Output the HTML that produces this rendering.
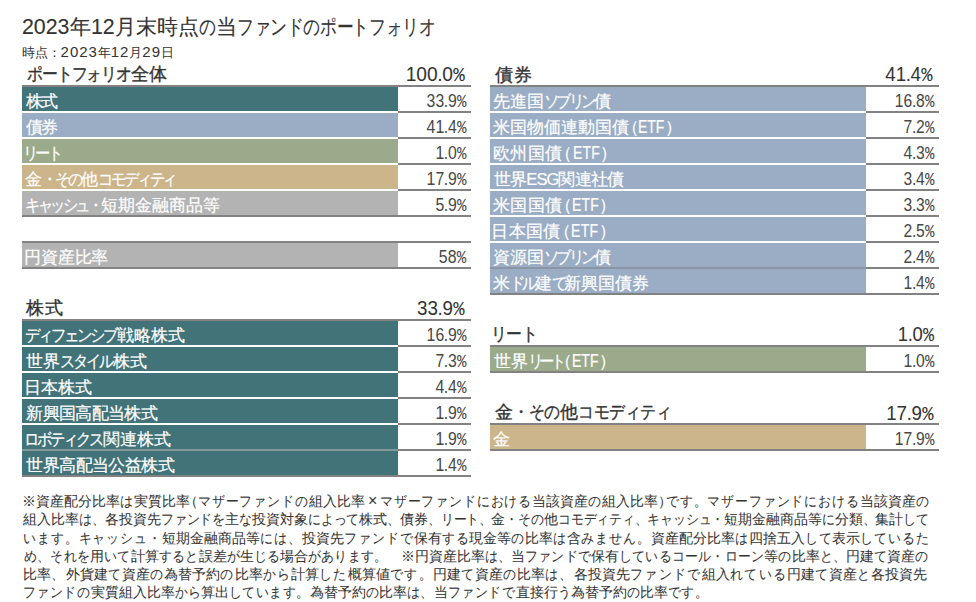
<!DOCTYPE html>
<html lang="ja"><head><meta charset="utf-8"><style>
*{margin:0;padding:0;box-sizing:border-box}
html,body{width:976px;height:602px;overflow:hidden;background:#fff}
body{position:relative;font-family:"Liberation Sans",sans-serif;color:#333333}
.r{position:absolute}
div[id]{position:absolute;white-space:nowrap}
.t{font-size:21px;line-height:24px;-webkit-text-stroke:0.1px #333333}
.st{font-size:13px;line-height:16px}
.lb{font-size:16.5px;line-height:17px;color:#ffffff;-webkit-text-stroke:0.2px #ffffff}
.vl{font-size:18px;line-height:20px;height:20px;color:#484848;transform-origin:100% 50%}
.hd{font-size:17.5px;line-height:20px;-webkit-text-stroke:0.35px #333333}
.hv{font-size:20.4px;line-height:20px;height:20px;transform-origin:100% 50%}
.b{font-weight:bold}
.po{margin-left:-0.42em}
.ks{display:inline-block;transform-origin:0 50%}
.lat{display:inline-block;font-size:17.5px;transform:scaleX(0.8);transform-origin:0 50%}
.tdg{display:inline-block;font-size:22px;transform:scaleX(0.97);transform-origin:0 50%}
.sdg{font-size:15px}
.xm{font-size:16px;margin:0 3px;line-height:0;-webkit-text-stroke:0}
.pd{margin:0 -0.02em}
.pm{font-family:"Liberation Mono",monospace;margin-left:0.02em;line-height:1}
.pc{margin-right:-0.42em}
.ft{font-size:14px;line-height:18px;-webkit-text-stroke:0.05px #333333}
</style></head><body>
<div id="HAl" class="hd" style="top:63.80px;left:27.00px;"><span class="ks" style="letter-spacing:-1.117px;transform:scaleX(0.88);margin-right:-13.76px">ポートフォリオ</span>全体</div>
<div id="HAv" class="hv" style="top:63.50px;right:511.00px;transform:scaleX(0.9416);">100<span class="pd">.</span>0<span class="pm">%</span></div>
<div class="r" style="left:22px;top:85px;width:449px;height:2px;background:#828282"></div>
<div class="r" style="left:22px;top:87px;width:376px;height:24px;background:#427378"></div>
<div class="r" style="left:398px;top:111px;width:73px;height:2px;background:#828282"></div>
<div id="A0l" class="lb" style="top:92.70px;left:26.20px;letter-spacing:-1.920px;">株式</div>
<div id="A0v" class="vl" style="top:90.90px;right:509.60px;transform:scaleX(0.8766);">33<span class="pd">.</span>9<span class="pm">%</span></div>
<div class="r" style="left:22px;top:113px;width:376px;height:24px;background:#9aadc4"></div>
<div class="r" style="left:398px;top:137px;width:73px;height:2px;background:#828282"></div>
<div id="A1l" class="lb" style="top:118.70px;left:26.20px;letter-spacing:-1.920px;">債券</div>
<div id="A1v" class="vl" style="top:116.90px;right:509.60px;transform:scaleX(0.8766);">41<span class="pd">.</span>4<span class="pm">%</span></div>
<div class="r" style="left:22px;top:139px;width:376px;height:24px;background:#9aaa8a"></div>
<div class="r" style="left:398px;top:163px;width:73px;height:2px;background:#828282"></div>
<div id="A2l" class="lb" style="top:144.70px;left:22.60px;"><span class="ks" style="letter-spacing:-3.378px;transform:scaleX(0.9);margin-right:-3.94px">リート</span></div>
<div id="A2v" class="vl" style="top:142.90px;right:509.60px;transform:scaleX(0.8766);">1<span class="pd">.</span>0<span class="pm">%</span></div>
<div class="r" style="left:22px;top:165px;width:376px;height:24px;background:#cdb58b"></div>
<div class="r" style="left:398px;top:189px;width:73px;height:2px;background:#828282"></div>
<div id="A3l" class="lb" style="top:170.70px;left:25.20px;">金<span class="ks" style="letter-spacing:-2.667px;transform:scaleX(0.9);margin-right:-4.15px">・その</span>他<span class="ks" style="letter-spacing:-2.667px;transform:scaleX(0.9);margin-right:-8.30px">コモディティ</span></div>
<div id="A3v" class="vl" style="top:168.90px;right:509.60px;transform:scaleX(0.8766);">17<span class="pd">.</span>9<span class="pm">%</span></div>
<div class="r" style="left:22px;top:191px;width:376px;height:24px;background:#b3b3b3"></div>
<div id="A4l" class="lb" style="top:196.70px;left:25.20px;"><span class="ks" style="letter-spacing:-3.022px;transform:scaleX(0.9);margin-right:-8.09px">キャッシュ・</span>短期金融商品等</div>
<div id="A4v" class="vl" style="top:194.90px;right:509.60px;transform:scaleX(0.8766);">5<span class="pd">.</span>9<span class="pm">%</span></div>
<div class="r" style="left:22px;top:215px;width:449px;height:2px;background:#828282"></div>
<div class="r" style="left:22px;top:241px;width:449px;height:2px;background:#828282"></div>
<div class="r" style="left:22px;top:243px;width:376px;height:24px;background:#b3b3b3"></div>
<div id="Y0l" class="lb" style="top:248.70px;left:24.00px;letter-spacing:-0.160px;">円資産比率</div>
<div id="Y0v" class="vl" style="top:246.90px;right:509.60px;transform:scaleX(0.8766);">58<span class="pm">%</span></div>
<div class="r" style="left:22px;top:267px;width:449px;height:2px;background:#828282"></div>
<div id="HSl" class="hd" style="top:298.40px;left:26.40px;letter-spacing:0.160px;">株式</div>
<div id="HSv" class="hv" style="top:297.50px;right:511.20px;transform:scaleX(0.9222);">33<span class="pd">.</span>9<span class="pm">%</span></div>
<div class="r" style="left:22px;top:319px;width:449px;height:2px;background:#828282"></div>
<div class="r" style="left:22px;top:321px;width:376px;height:24px;background:#427378"></div>
<div class="r" style="left:398px;top:345px;width:73px;height:2px;background:#828282"></div>
<div id="S0l" class="lb" style="top:326.70px;left:25.20px;"><span class="ks" style="letter-spacing:-2.514px;transform:scaleX(0.9);margin-right:-9.79px">ディフェンシブ</span>戦略株式</div>
<div id="S0v" class="vl" style="top:324.90px;right:509.60px;transform:scaleX(0.8766);">16<span class="pd">.</span>9<span class="pm">%</span></div>
<div class="r" style="left:22px;top:347px;width:376px;height:24px;background:#427378"></div>
<div class="r" style="left:398px;top:371px;width:73px;height:2px;background:#828282"></div>
<div id="S1l" class="lb" style="top:352.70px;left:26.40px;">世界<span class="ks" style="letter-spacing:-2.444px;transform:scaleX(0.9);margin-right:-5.62px">スタイル</span>株式</div>
<div id="S1v" class="vl" style="top:350.90px;right:509.60px;transform:scaleX(0.8766);">7<span class="pd">.</span>3<span class="pm">%</span></div>
<div class="r" style="left:22px;top:373px;width:376px;height:24px;background:#427378"></div>
<div class="r" style="left:398px;top:397px;width:73px;height:2px;background:#828282"></div>
<div id="S2l" class="lb" style="top:378.70px;left:24.00px;letter-spacing:-0.053px;">日本株式</div>
<div id="S2v" class="vl" style="top:376.90px;right:509.60px;transform:scaleX(0.8766);">4<span class="pd">.</span>4<span class="pm">%</span></div>
<div class="r" style="left:22px;top:399px;width:376px;height:24px;background:#427378"></div>
<div class="r" style="left:398px;top:423px;width:73px;height:2px;background:#828282"></div>
<div id="S3l" class="lb" style="top:404.70px;left:26.40px;letter-spacing:-0.663px;">新興国高配当株式</div>
<div id="S3v" class="vl" style="top:402.90px;right:509.60px;transform:scaleX(0.8766);">1<span class="pd">.</span>9<span class="pm">%</span></div>
<div class="r" style="left:22px;top:425px;width:376px;height:24px;background:#427378"></div>
<div class="r" style="left:398px;top:449px;width:73px;height:2px;background:#828282"></div>
<div class="r" style="left:22px;top:449px;width:376px;height:2px;background:#819b9c"></div>
<div id="S4l" class="lb" style="top:430.70px;left:24.20px;"><span class="ks" style="letter-spacing:-2.548px;transform:scaleX(0.9);margin-right:-8.37px">ロボティクス</span>関連株式</div>
<div id="S4v" class="vl" style="top:428.90px;right:509.60px;transform:scaleX(0.8766);">1<span class="pd">.</span>9<span class="pm">%</span></div>
<div class="r" style="left:22px;top:451px;width:376px;height:24px;background:#427378"></div>
<div id="S5l" class="lb" style="top:456.70px;left:26.40px;letter-spacing:-0.580px;">世界高配当公益株式</div>
<div id="S5v" class="vl" style="top:454.90px;right:509.60px;transform:scaleX(0.8766);">1<span class="pd">.</span>4<span class="pm">%</span></div>
<div class="r" style="left:22px;top:475px;width:449px;height:2px;background:#828282"></div>
<div id="HBl" class="hd" style="top:64.60px;left:495.00px;letter-spacing:0.800px;">債券</div>
<div id="HBv" class="hv" style="top:63.90px;right:43.00px;transform:scaleX(0.9179);">41<span class="pd">.</span>4<span class="pm">%</span></div>
<div class="r" style="left:490px;top:85px;width:449px;height:2px;background:#828282"></div>
<div class="r" style="left:490px;top:87px;width:376px;height:24px;background:#9aadc4"></div>
<div class="r" style="left:866px;top:111px;width:73px;height:2px;background:#828282"></div>
<div id="B0l" class="lb" style="top:92.70px;left:493.20px;">先進国<span class="ks" style="letter-spacing:-3.333px;transform:scaleX(0.9);margin-right:-5.27px">ソブリン</span>債</div>
<div id="B0v" class="vl" style="top:90.90px;right:41.60px;transform:scaleX(0.8711);">16<span class="pd">.</span>8<span class="pm">%</span></div>
<div class="r" style="left:490px;top:113px;width:376px;height:24px;background:#9aadc4"></div>
<div class="r" style="left:866px;top:137px;width:73px;height:2px;background:#828282"></div>
<div id="B1l" class="lb" style="top:118.70px;left:493.20px;letter-spacing:-0.093px;">米国物価連動国債<span class="po">（</span><span class="lat" style="margin-right:-6.61px">ETF</span><span class="pc">）</span></div>
<div id="B1v" class="vl" style="top:116.90px;right:41.60px;transform:scaleX(0.8711);">7<span class="pd">.</span>2<span class="pm">%</span></div>
<div class="r" style="left:490px;top:139px;width:376px;height:24px;background:#9aadc4"></div>
<div class="r" style="left:866px;top:163px;width:73px;height:2px;background:#828282"></div>
<div id="B2l" class="lb" style="top:144.70px;left:493.20px;letter-spacing:0.280px;">欧州国債<span class="po">（</span><span class="lat" style="margin-right:-6.61px">ETF</span><span class="pc">）</span></div>
<div id="B2v" class="vl" style="top:142.90px;right:41.60px;transform:scaleX(0.8711);">4<span class="pd">.</span>3<span class="pm">%</span></div>
<div class="r" style="left:490px;top:165px;width:376px;height:24px;background:#9aadc4"></div>
<div class="r" style="left:866px;top:189px;width:73px;height:2px;background:#828282"></div>
<div id="B3l" class="lb" style="top:170.70px;left:494.20px;letter-spacing:-0.920px;">世界ESG関連社債</div>
<div id="B3v" class="vl" style="top:168.90px;right:41.60px;transform:scaleX(0.8711);">3<span class="pd">.</span>4<span class="pm">%</span></div>
<div class="r" style="left:490px;top:191px;width:376px;height:24px;background:#9aadc4"></div>
<div class="r" style="left:866px;top:215px;width:73px;height:2px;background:#828282"></div>
<div id="B4l" class="lb" style="top:196.70px;left:493.20px;letter-spacing:0.160px;">米国国債<span class="po">（</span><span class="lat" style="margin-right:-6.61px">ETF</span><span class="pc">）</span></div>
<div id="B4v" class="vl" style="top:194.90px;right:41.60px;transform:scaleX(0.8711);">3<span class="pd">.</span>3<span class="pm">%</span></div>
<div class="r" style="left:490px;top:217px;width:376px;height:24px;background:#9aadc4"></div>
<div class="r" style="left:866px;top:241px;width:73px;height:2px;background:#828282"></div>
<div id="B5l" class="lb" style="top:222.70px;left:491.20px;letter-spacing:0.360px;">日本国債<span class="po">（</span><span class="lat" style="margin-right:-6.61px">ETF</span><span class="pc">）</span></div>
<div id="B5v" class="vl" style="top:220.90px;right:41.60px;transform:scaleX(0.8711);">2<span class="pd">.</span>5<span class="pm">%</span></div>
<div class="r" style="left:490px;top:243px;width:376px;height:24px;background:#9aadc4"></div>
<div class="r" style="left:866px;top:267px;width:73px;height:2px;background:#828282"></div>
<div class="r" style="left:490px;top:267px;width:376px;height:2px;background:#8a96a6"></div>
<div id="B6l" class="lb" style="top:248.70px;left:493.20px;">資源国<span class="ks" style="letter-spacing:-3.333px;transform:scaleX(0.9);margin-right:-5.27px">ソブリン</span>債</div>
<div id="B6v" class="vl" style="top:246.90px;right:41.60px;transform:scaleX(0.8711);">2<span class="pd">.</span>4<span class="pm">%</span></div>
<div class="r" style="left:490px;top:269px;width:376px;height:24px;background:#9aadc4"></div>
<div id="B7l" class="lb" style="top:274.70px;left:493.20px;">米<span class="ks" style="letter-spacing:-3.319px;transform:scaleX(0.9);margin-right:-2.64px">ドル</span>建<span class="ks" style="letter-spacing:-3.319px;transform:scaleX(0.9);margin-right:-1.32px">て</span>新興国債券</div>
<div id="B7v" class="vl" style="top:272.90px;right:41.60px;transform:scaleX(0.8711);">1<span class="pd">.</span>4<span class="pm">%</span></div>
<div class="r" style="left:490px;top:293px;width:449px;height:2px;background:#828282"></div>
<div id="HRl" class="hd" style="top:323.80px;left:491.00px;"><span class="ks" style="letter-spacing:-0.545px;transform:scaleX(0.88);margin-right:-6.10px">リート</span></div>
<div id="HRv" class="hv" style="top:323.60px;right:42.00px;transform:scaleX(0.9049);">1<span class="pd">.</span>0<span class="pm">%</span></div>
<div class="r" style="left:490px;top:345px;width:449px;height:2px;background:#828282"></div>
<div class="r" style="left:490px;top:347px;width:376px;height:24px;background:#9aaa8a"></div>
<div id="R0l" class="lb" style="top:352.70px;left:494.00px;">世界<span class="ks" style="letter-spacing:-4.385px;transform:scaleX(0.9);margin-right:-3.63px">リート</span><span class="po">（</span><span class="lat" style="margin-right:-6.61px">ETF</span><span class="pc">）</span></div>
<div id="R0v" class="vl" style="top:350.90px;right:41.60px;transform:scaleX(0.8711);">1<span class="pd">.</span>0<span class="pm">%</span></div>
<div class="r" style="left:490px;top:371px;width:449px;height:2px;background:#828282"></div>
<div id="HGl" class="hd" style="top:402.20px;left:495.00px;">金<span class="ks" style="letter-spacing:-0.386px;transform:scaleX(0.88);margin-right:-6.16px">・その</span>他<span class="ks" style="letter-spacing:-0.386px;transform:scaleX(0.88);margin-right:-12.32px">コモディティ</span></div>
<div id="HGv" class="hv" style="top:402.90px;right:42.40px;transform:scaleX(0.9195);">17<span class="pd">.</span>9<span class="pm">%</span></div>
<div class="r" style="left:490px;top:423px;width:449px;height:2px;background:#828282"></div>
<div class="r" style="left:490px;top:425px;width:376px;height:24px;background:#cdb58b"></div>
<div id="G0l" class="lb" style="top:430.70px;left:493.00px;">金</div>
<div id="G0v" class="vl" style="top:428.90px;right:41.60px;transform:scaleX(0.8711);">17<span class="pd">.</span>9<span class="pm">%</span></div>
<div class="r" style="left:490px;top:449px;width:449px;height:2px;background:#828282"></div>
<div id="F0" class="ft" style="top:492.00px;left:22.40px;">※資産配分比率<span class="ks" style="letter-spacing:1.024px;transform:scaleX(0.92);margin-right:-1.20px">は</span>実質比率<span class="po">（</span><span class="ks" style="letter-spacing:1.024px;transform:scaleX(0.92);margin-right:-9.62px">マザーファンドの</span>組入比率<span class="xm">×</span><span class="ks" style="letter-spacing:1.024px;transform:scaleX(0.92);margin-right:-13.22px">マザーファンドにおける</span>当該資産<span class="ks" style="letter-spacing:1.024px;transform:scaleX(0.92);margin-right:-1.20px">の</span>組入比率<span class="pc">）</span><span class="ks" style="letter-spacing:1.024px;transform:scaleX(0.92);margin-right:-16.83px">です。マザーファンドにおける</span>当該資産<span class="ks" style="letter-spacing:1.024px;transform:scaleX(0.92);margin-right:-1.20px">の</span></div>
<div id="F1" class="ft" style="top:510.25px;left:23.40px;">組入比率<span class="ks" style="letter-spacing:-0.113px;transform:scaleX(0.92);margin-right:-2.22px">は、</span>各投資先<span class="ks" style="letter-spacing:-0.113px;transform:scaleX(0.92);margin-right:-5.55px">ファンドを</span>主<span class="ks" style="letter-spacing:-0.113px;transform:scaleX(0.92);margin-right:-1.11px">な</span>投資対象<span class="ks" style="letter-spacing:-0.113px;transform:scaleX(0.92);margin-right:-4.44px">によって</span>株式<span class="ks" style="letter-spacing:-0.113px;transform:scaleX(0.92);margin-right:-1.11px">、</span>債券<span class="ks" style="letter-spacing:-0.113px;transform:scaleX(0.92);margin-right:-5.55px">、リート、</span>金<span class="ks" style="letter-spacing:-0.113px;transform:scaleX(0.92);margin-right:-3.33px">・その</span>他<span class="ks" style="letter-spacing:-0.113px;transform:scaleX(0.92);margin-right:-14.44px">コモディティ、キャッシュ・</span>短期金融商品等<span class="ks" style="letter-spacing:-0.113px;transform:scaleX(0.92);margin-right:-1.11px">に</span>分類<span class="ks" style="letter-spacing:-0.113px;transform:scaleX(0.92);margin-right:-1.11px">、</span>集計<span class="ks" style="letter-spacing:-0.113px;transform:scaleX(0.92);margin-right:-2.22px">して</span></div>
<div id="F2" class="ft" style="top:528.50px;left:23.40px;"><span class="ks" style="letter-spacing:1.105px;transform:scaleX(0.92);margin-right:-12.08px">います。キャッシュ・</span>短期金融商品等<span class="ks" style="letter-spacing:1.105px;transform:scaleX(0.92);margin-right:-3.63px">には、</span>投資先<span class="ks" style="letter-spacing:1.105px;transform:scaleX(0.92);margin-right:-6.04px">ファンドで</span>保有<span class="ks" style="letter-spacing:1.105px;transform:scaleX(0.92);margin-right:-2.42px">する</span>現金等<span class="ks" style="letter-spacing:1.105px;transform:scaleX(0.92);margin-right:-1.21px">の</span>比率<span class="ks" style="letter-spacing:1.105px;transform:scaleX(0.92);margin-right:-1.21px">は</span>含<span class="ks" style="letter-spacing:1.105px;transform:scaleX(0.92);margin-right:-6.04px">みません。</span>資産配分比率<span class="ks" style="letter-spacing:1.105px;transform:scaleX(0.92);margin-right:-1.21px">は</span>四捨五入<span class="ks" style="letter-spacing:1.105px;transform:scaleX(0.92);margin-right:-2.42px">して</span>表示<span class="ks" style="letter-spacing:1.105px;transform:scaleX(0.92);margin-right:-6.04px">しているた</span></div>
<div id="F3" class="ft" style="top:546.75px;left:24.40px;"><span class="ks" style="letter-spacing:0.356px;transform:scaleX(0.92);margin-right:-5.74px">め、それを</span>用<span class="ks" style="letter-spacing:0.356px;transform:scaleX(0.92);margin-right:-2.30px">いて</span>計算<span class="ks" style="letter-spacing:0.356px;transform:scaleX(0.92);margin-right:-3.45px">すると</span>誤差<span class="ks" style="letter-spacing:0.356px;transform:scaleX(0.92);margin-right:-1.15px">が</span>生<span class="ks" style="letter-spacing:0.356px;transform:scaleX(0.92);margin-right:-2.30px">じる</span>場合<span class="ks" style="letter-spacing:0.356px;transform:scaleX(0.92);margin-right:-8.04px">があります。　</span>※円資産比率<span class="ks" style="letter-spacing:0.356px;transform:scaleX(0.92);margin-right:-2.30px">は、</span>当<span class="ks" style="letter-spacing:0.356px;transform:scaleX(0.92);margin-right:-5.74px">ファンドで</span>保有<span class="ks" style="letter-spacing:0.356px;transform:scaleX(0.92);margin-right:-12.63px">しているコール・ローン</span>等<span class="ks" style="letter-spacing:0.356px;transform:scaleX(0.92);margin-right:-1.15px">の</span>比率<span class="ks" style="letter-spacing:0.356px;transform:scaleX(0.92);margin-right:-2.30px">と、</span>円建<span class="ks" style="letter-spacing:0.356px;transform:scaleX(0.92);margin-right:-1.15px">て</span>資産<span class="ks" style="letter-spacing:0.356px;transform:scaleX(0.92);margin-right:-1.15px">の</span></div>
<div id="F4" class="ft" style="top:565.00px;left:23.40px;">比率<span class="ks" style="letter-spacing:1.545px;transform:scaleX(0.92);margin-right:-1.24px">、</span>外貨建<span class="ks" style="letter-spacing:1.545px;transform:scaleX(0.92);margin-right:-1.24px">て</span>資産<span class="ks" style="letter-spacing:1.545px;transform:scaleX(0.92);margin-right:-1.24px">の</span>為替予約<span class="ks" style="letter-spacing:1.545px;transform:scaleX(0.92);margin-right:-1.24px">の</span>比率<span class="ks" style="letter-spacing:1.545px;transform:scaleX(0.92);margin-right:-2.49px">から</span>計算<span class="ks" style="letter-spacing:1.545px;transform:scaleX(0.92);margin-right:-2.49px">した</span>概算値<span class="ks" style="letter-spacing:1.545px;transform:scaleX(0.92);margin-right:-3.73px">です。</span>円建<span class="ks" style="letter-spacing:1.545px;transform:scaleX(0.92);margin-right:-1.24px">て</span>資産<span class="ks" style="letter-spacing:1.545px;transform:scaleX(0.92);margin-right:-1.24px">の</span>比率<span class="ks" style="letter-spacing:1.545px;transform:scaleX(0.92);margin-right:-2.49px">は、</span>各投資先<span class="ks" style="letter-spacing:1.545px;transform:scaleX(0.92);margin-right:-6.22px">ファンドで</span>組入<span class="ks" style="letter-spacing:1.545px;transform:scaleX(0.92);margin-right:-4.97px">れている</span>円建<span class="ks" style="letter-spacing:1.545px;transform:scaleX(0.92);margin-right:-1.24px">て</span>資産<span class="ks" style="letter-spacing:1.545px;transform:scaleX(0.92);margin-right:-1.24px">と</span>各投資先</div>
<div id="F5" class="ft" style="top:583.25px;left:23.40px;"><span class="ks" style="letter-spacing:0.598px;transform:scaleX(0.92);margin-right:-5.84px">ファンドの</span>実質組入比率<span class="ks" style="letter-spacing:0.598px;transform:scaleX(0.92);margin-right:-2.34px">から</span>算出<span class="ks" style="letter-spacing:0.598px;transform:scaleX(0.92);margin-right:-7.01px">しています。</span>為替予約<span class="ks" style="letter-spacing:0.598px;transform:scaleX(0.92);margin-right:-1.17px">の</span>比率<span class="ks" style="letter-spacing:0.598px;transform:scaleX(0.92);margin-right:-2.34px">は、</span>当<span class="ks" style="letter-spacing:0.598px;transform:scaleX(0.92);margin-right:-5.84px">ファンドで</span>直接行<span class="ks" style="letter-spacing:0.598px;transform:scaleX(0.92);margin-right:-1.17px">う</span>為替予約<span class="ks" style="letter-spacing:0.598px;transform:scaleX(0.92);margin-right:-1.17px">の</span>比率<span class="ks" style="letter-spacing:0.598px;transform:scaleX(0.92);margin-right:-3.50px">です。</span></div>
<div id="T" class="t" style="top:15.20px;left:21.60px;"><span class="tdg" style="margin-right:-0.87px">2023</span>年<span class="tdg" style="margin-right:-0.13px">12</span>月末時点<span class="ks" style="letter-spacing:-1.250px;transform:scaleX(0.8);margin-right:-3.95px">の</span>当<span class="ks" style="letter-spacing:-1.250px;transform:scaleX(0.8);margin-right:-47.40px">ファンドのポートフォリオ</span></div>
<div id="ST" class="st" style="top:43.90px;left:21.60px;">時点：<span class="sdg" style="letter-spacing:0.950px">2023</span>年<span class="sdg" style="letter-spacing:0.950px">12</span>月<span class="sdg" style="letter-spacing:0.950px">29</span>日</div>
</body></html>
